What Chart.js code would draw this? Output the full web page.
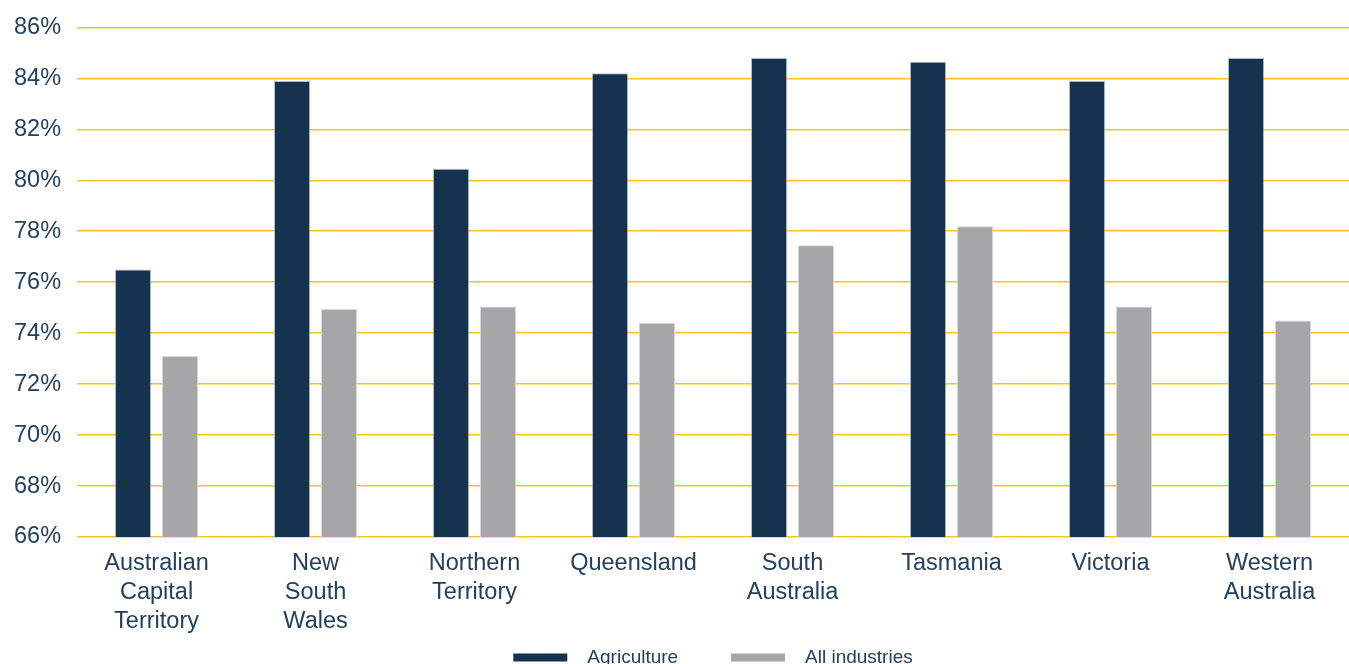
<!DOCTYPE html>
<html>
<head>
<meta charset="utf-8">
<script src="https://cdn.jsdelivr.net/npm/chart.js@4/dist/chart.umd.min.js"></script>
<style>
  html, body { margin: 0; padding: 0; background: #fff; overflow: hidden; }
  #wrap { width: 1349px; height: 677px; position: relative; }
</style>
</head>
<body>
<div id="wrap"><canvas id="chart"></canvas></div>
<script>
// states / territories
const states = [
    ['Australian', 'Capital', 'Territory'],
    ['New', 'South', 'Wales'],
    ['Northern', 'Territory'],
    'Queensland',
    ['South', 'Australia'],
    'Tasmania',
    'Victoria',
    ['Western', 'Australia']
]

// percentages
const agriculture = [76.5, 83.9, 80.45, 84.2, 84.8, 84.65, 83.9, 84.8]
const allIndustries = [73.1, 74.95, 75.05, 74.4, 77.45, 78.2, 75.05, 74.5]

const yTicks = { min: 66, max: 86, step: 2 }

const navy = '#15324f'
const grey = '#a6a6a8'
const gold = '#f5c523'
const textColor = '#23405e'

Chart.defaults.font.family = '"Liberation Sans", Arial, sans-serif'

// nudge legend so it sits centred under the plot area, like the original
const legendShift = {
    id: 'legendShift',
    afterLayout(chart) {
        const dx = (chart.chartArea.left + chart.chartArea.right) / 2 - (chart.legend.left + chart.legend.right) / 2
        chart.legend.left += dx
        chart.legend.right += dx
    }
}

const ctx = document.querySelector('#chart').getContext('2d')

new Chart(ctx, {
    type: 'bar',
    data: {
        labels: states,
        datasets: [
            {
                label: 'Agriculture',
                data: agriculture,
                backgroundColor: navy,
                borderColor: 'rgba(150, 170, 190, 0.8)',
                borderWidth: 1
            },
            {
                label: 'All industries',
                data: allIndustries,
                backgroundColor: grey,
                borderColor: 'rgba(215, 215, 215, 1)',
                borderWidth: 1
            }
        ]
    },
    plugins: [legendShift],
    options: {
        responsive: true,
        maintainAspectRatio: false,
        animation: false,
        layout: { padding: { top: 13, left: -2, right: 0, bottom: 0 } },
        datasets: {
            bar: {
                categoryPercentage: 0.59,
                barPercentage: 0.77
            }
        },
        scales: {
            x: {
                grid: { display: false, drawTicks: false },
                border: { display: false },
                ticks: {
                    color: textColor,
                    padding: 12,
                    font: { size: 23.5, lineHeight: 1.234 },
                    maxRotation: 0,
                    autoSkip: false
                }
            },
            y: {
                min: yTicks.min,
                max: yTicks.max,
                grid: { color: gold, lineWidth: 1.5, drawTicks: false },
                border: { display: false },
                ticks: {
                    stepSize: yTicks.step,
                    color: textColor,
                    padding: 16,
                    font: { size: 23.5, lineHeight: 0.97 },
                    callback: v => v + '%'
                }
            }
        },
        plugins: {
            legend: {
                position: 'bottom',
                labels: {
                    boxWidth: 54,
                    boxHeight: 8,
                    padding: 0,
                    color: textColor,
                    font: { size: 19 },
                    generateLabels(chart) {
                        const items = Chart.defaults.plugins.legend.labels.generateLabels(chart)
                        items.forEach((item, i) => {
                            item.lineWidth = 0
                            item.text = '  ' + item.text + (i === 0 ? '          ' : '')
                        })
                        return items
                    }
                }
            },
            tooltip: { enabled: false }
        }
    }
})
</script>
</body>
</html>
